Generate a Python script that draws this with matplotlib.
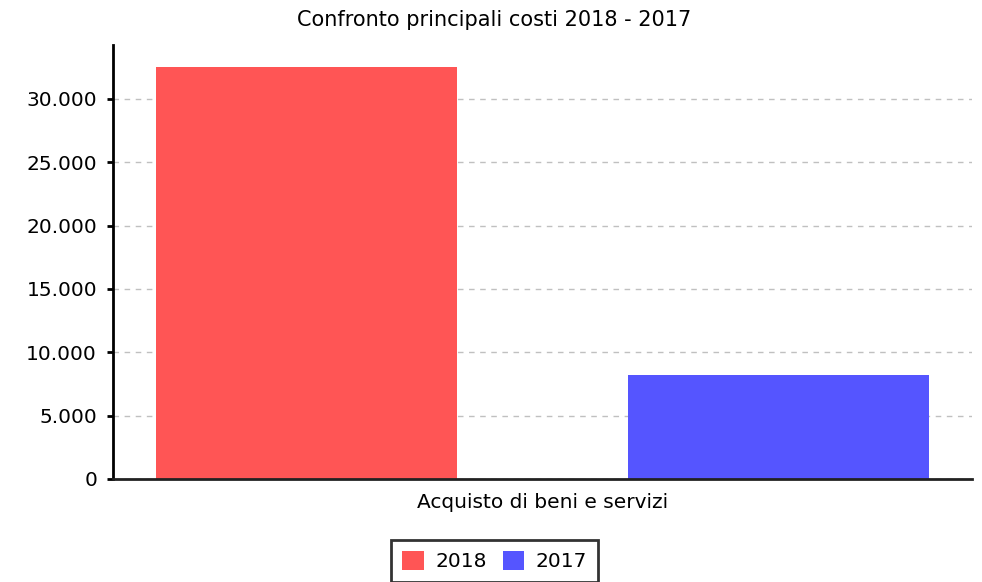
import matplotlib
matplotlib.use("Agg")
import matplotlib.pyplot as plt
from matplotlib.ticker import FuncFormatter, MultipleLocator
from matplotlib.patches import Patch

categories = ["Acquisto di beni e servizi"]
series_names = ["2018", "2017"]
values_2018 = [32530]
values_2017 = [8210]
colors = ["#FF5555", "#5555FF"]
title = "Confronto principali costi 2018 - 2017"

plt.rcParams['font.family'] = ['DejaVu Sans']
FS = 14.5

fig = plt.figure(figsize=(9.82, 5.82), dpi=100)
ax = fig.add_axes([113/982, (582-479)/582, (972-113)/982, (479-45)/582])

width = 0.35
offset = 0.275
x0 = 0.5
ax.bar([x0 - offset], values_2018, width=width, color=colors[0], zorder=2)
ax.bar([x0 + offset], values_2017, width=width, color=colors[1], zorder=2)

ax.set_xlim(0, 1)
ax.set_ylim(0, 34263)
ax.yaxis.set_major_locator(MultipleLocator(5000))
ax.yaxis.set_major_formatter(FuncFormatter(lambda v, p: f"{int(round(v)):,}".replace(",", ".")))
ax.set_xticks([x0])
ax.set_xticklabels(categories)
ax.tick_params(axis='x', length=0, pad=10, labelsize=FS)
ax.tick_params(axis='y', length=4.5, width=2, labelsize=FS, pad=7)

ax.grid(axis='y', color='#c0c0c0', linestyle=(0, (4, 4)), linewidth=1, zorder=1)
for s in ['top', 'right']:
    ax.spines[s].set_visible(False)
ax.spines['left'].set_linewidth(2)
ax.spines['bottom'].set_linewidth(2)
ax.spines['bottom'].set_color('#222222')

fig.text(494/982, 1 - 20/582, title, ha='center', va='center', fontsize=15)

handles = [Patch(facecolor=colors[0]), Patch(facecolor=colors[1])]
leg = fig.legend(handles, series_names, loc='center', bbox_to_anchor=(494.5/982, 1 - 561/582),
                 ncol=2, fontsize=FS, frameon=True, fancybox=False, edgecolor='black',
                 handlelength=1.08, handleheight=1.08, handletextpad=0.55, columnspacing=0.8,
                 borderpad=0.55)
leg.get_frame().set_linewidth(2)

fig.savefig("out.png", dpi=100)
